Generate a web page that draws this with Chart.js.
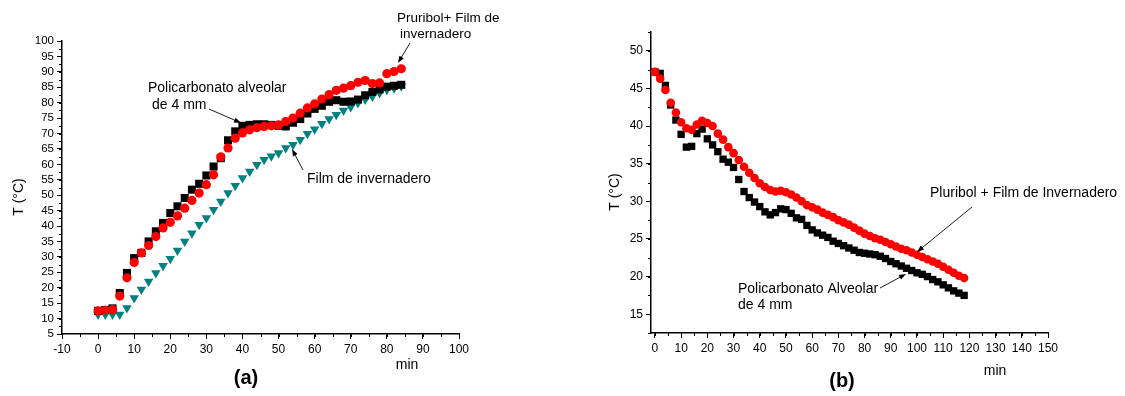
<!DOCTYPE html>
<html><head><meta charset="utf-8">
<script src="https://cdn.jsdelivr.net/npm/chart.js@4.4.0/dist/chart.umd.min.js"></script>
<style>
html,body{margin:0;padding:0;background:#fff;width:1125px;height:396px;overflow:hidden}
.w{position:absolute;top:0;width:560px;height:396px}
canvas{display:block}
</style></head><body>
<div class="w" style="left:0"><canvas id="ca" width="560" height="396"></canvas></div>
<div class="w" style="left:565px"><canvas id="cb" width="560" height="396"></canvas></div>
<script>
// ---------- Data: chart (a) heating ----------
const timeA = [0,2,4,6,8,10,12,14,16,18,20,22,24,26,28,30,32,34,36,38,40,42,44,46,48,50,52,54,56,58,60,62,64,66,68,70,72,74,76,78,80,82,84];
const policarbA = [12.5,12.8,13.3,18.3,24.8,29.6,31.3,35,38.3,41,44.2,46.4,49.1,51.8,53.7,56.4,59.3,62,67.8,70.7,72.5,72.8,73,73,72.8,72.5,72.3,73.5,74.7,76.5,78,79,80.3,80.8,80.3,80.4,81,82.4,83.5,84.3,85.2,85.5,85.8];
const pluribolFilmA = [12.5,12.7,12.9,17.3,23.2,28.2,31.3,33.7,36.6,39.4,41.2,43.3,45.8,48.3,50.7,53.4,56.6,62.4,65.3,68.5,70.2,71.2,71.9,72.3,72.5,72.8,73.9,75,76.6,78.3,79.6,81.2,82.6,84,84.7,85.5,86.6,87.2,86.2,86.4,89.4,90.1,91];
const filmA = [11.3,11.3,11.3,11.3,13.4,16.7,19.4,22,24.8,27.1,29.4,32.1,35,37.7,40.4,42.6,45.3,48,50.7,53.1,55.6,57.7,59.9,61.5,62.6,63.7,65.3,66.4,68,69.9,71.4,73.2,74.7,76.1,77.5,78.6,79.9,81,82,83.1,84.2,84.7,85.3];
const xTicksA = [-10,0,10,20,30,40,50,60,70,80,90,100];
const yTicksA = [5,10,15,20,25,30,35,40,45,50,55,60,65,70,75,80,85,90,95,100];

// ---------- Data: chart (b) cooling ----------
const timeB = [0,2,4,6,8,10,12,14,16,18,20,22,24,26,28,30,32,34,36,38,40,42,44,46,48,50,52,54,56,58,60,62,64,66,68,70,72,74,76,78,80,82,84,86,88,90,92,94,96,98,100,102,104,106,108,110,112,114,116,118];
const pluribolFilmB = [47.2,46.3,44.8,43.1,41.8,40.5,39.7,39.5,40.2,40.7,40.4,40.0,39.0,38.2,37.2,36.4,35.5,34.6,33.8,33.1,32.4,31.9,31.5,31.3,31.4,31.2,30.9,30.5,30.0,29.5,29.2,28.9,28.5,28.2,27.9,27.5,27.2,26.9,26.5,26.1,25.7,25.4,25.1,24.9,24.6,24.3,24.0,23.7,23.5,23.2,22.9,22.6,22.3,22.0,21.7,21.3,20.9,20.5,20.1,19.8];
const policarbB = [47.2,47.0,45.4,42.8,40.8,38.9,37.2,37.3,39.0,39.6,38.3,37.5,36.6,35.6,35.2,34.5,32.9,31.3,30.5,29.9,29.3,28.6,28.2,28.5,29.0,28.9,28.4,27.8,27.6,26.8,26.2,25.8,25.5,25.2,24.7,24.4,24.1,23.8,23.5,23.2,23.1,23.0,22.9,22.7,22.4,22.0,21.7,21.4,21.1,20.8,20.5,20.3,20.0,19.6,19.3,18.9,18.5,18.1,17.8,17.5];
const xTicksB = [0,10,20,30,40,50,60,70,80,90,100,110,120,130,140,150];
const yTicksB = [15,20,25,30,35,40,45,50];

const FONT = '"Liberation Sans", Arial, Helvetica, sans-serif';
Chart.defaults.font.family = FONT;
Chart.defaults.color = '#000';

const pts = (xs, ys) => xs.map((x, i) => ({x, y: ys[i]}));

function drawArrow(ctx, x1, y1, x2, y2) {
  const a = Math.atan2(y2 - y1, x2 - x1), L = 7, W = 2.6;
  ctx.beginPath(); ctx.moveTo(x1, y1);
  ctx.lineTo(x2 - Math.cos(a) * (L - 1), y2 - Math.sin(a) * (L - 1)); ctx.stroke();
  ctx.beginPath(); ctx.moveTo(x2, y2);
  ctx.lineTo(x2 - L * Math.cos(a) + W * Math.sin(a), y2 - L * Math.sin(a) - W * Math.cos(a));
  ctx.lineTo(x2 - L * Math.cos(a) - W * Math.sin(a), y2 - L * Math.sin(a) + W * Math.cos(a));
  ctx.closePath(); ctx.fill();
}

const extras = {
  id: 'extras',
  afterDraw(chart, args, opts) {
    const ctx = chart.ctx;
    ctx.save();
    ctx.strokeStyle = '#000'; ctx.fillStyle = '#000'; ctx.lineWidth = 1;
    // minor ticks
    const sx = chart.scales.x, sy = chart.scales.y;
    const ca = chart.chartArea;
    const mx = opts.minorX, my = opts.minorY;
    for (let v = Math.ceil(sx.min / mx) * mx; v <= sx.max + 1e-9; v += mx) {
      const p = Math.round(sx.getPixelForValue(v)) + 0.5;
      ctx.beginPath(); ctx.moveTo(p, ca.bottom); ctx.lineTo(p, ca.bottom + 3); ctx.stroke();
    }
    for (let v = Math.ceil(sy.min / my) * my; v <= sy.max + 1e-9; v += my) {
      const p = Math.round(sy.getPixelForValue(v)) + 0.5;
      ctx.beginPath(); ctx.moveTo(ca.left, p); ctx.lineTo(ca.left - 3, p); ctx.stroke();
    }
    // arrows
    ctx.lineWidth = 0.9;
    (opts.arrows || []).forEach(a => drawArrow(ctx, a[0], a[1], a[2], a[3]));
    // texts
    (opts.texts || []).forEach(t => {
      ctx.save();
      ctx.font = t.font + ' ' + FONT;
      ctx.textAlign = t.align || 'left';
      ctx.textBaseline = 'middle';
      ctx.translate(t.x, t.y);
      if (t.rot) ctx.rotate(t.rot);
      ctx.fillText(t.text, 0, 0);
      ctx.restore();
    });
    ctx.restore();
  }
};

function axis(a, dir) {
  return {
    type: 'linear', min: a.min, max: a.max,
    afterBuildTicks: s => { s.ticks = a.ticks.map(v => ({value: v})); },
    afterFit: s => { if (dir === 'x') s.height = a.size; else s.width = a.size; },
    border: {display: true, color: '#000', width: 1.5},
    grid: {display: true, drawOnChartArea: false, drawTicks: true, tickLength: 5, lineWidth: 1, tickColor: '#000'},
    ticks: {color: '#000', font: {size: a.font, family: FONT}, padding: a.pad, autoSkip: false, maxRotation: 0, minRotation: 0}
  };
}

function makeChart(id, cfg) {
  return new Chart(document.getElementById(id), {
    type: 'scatter',
    data: {datasets: cfg.datasets},
    options: {
      responsive: false, animation: false, devicePixelRatio: 1,
      layout: {padding: cfg.padding},
      plugins: {legend: {display: false}, tooltip: {enabled: false}, extras: cfg.extras},
      scales: {x: axis(cfg.x, 'x'), y: axis(cfg.y, 'y')}
    },
    plugins: [extras]
  });
}

// Chart (a)
makeChart('ca', {
  padding: {left: 0, top: 41, right: 101, bottom: 32},
  x: {min: -10, max: 100, ticks: xTicksA, size: 30, font: 12, pad: 3},
  y: {min: 5, max: 100, ticks: yTicksA, size: 62, font: 11.5, pad: 3},
  datasets: [
    {label: 'Pruribol+ Film de invernadero', data: pts(timeA, pluribolFilmA), pointStyle: 'circle', pointRadius: 4.6, backgroundColor: '#ff0000', borderWidth: 0, showLine: false},
    {label: 'Policarbonato alveolar de 4 mm', data: pts(timeA, policarbA), pointStyle: 'rect', pointRadius: 5.7, backgroundColor: '#000000', borderWidth: 0, showLine: false},
    {label: 'Film de invernadero', data: pts(timeA, filmA), pointStyle: 'triangle', rotation: 180, pointRadius: 5.5, backgroundColor: '#008080', borderWidth: 0, showLine: false}
  ],
  extras: {
    minorX: 5, minorY: 2.5,
    arrows: [[410, 43, 398, 63], [209, 109, 241, 123], [303, 170, 292, 149]],
    texts: [
      {text: 'Pruribol+ Film de', x: 397, y: 18, font: '13.5px'},
      {text: 'invernadero', x: 400, y: 34, font: '13.5px'},
      {text: 'Policarbonato alveolar', x: 148, y: 88, font: '14px'},
      {text: 'de 4 mm', x: 152, y: 105, font: '14px'},
      {text: 'Film de invernadero', x: 307, y: 179, font: '14px'},
      {text: 'min', x: 407, y: 365, font: '14px', align: 'center'},
      {text: '(a)', x: 246, y: 378, font: 'bold 20px', align: 'center'},
      {text: 'T (°C)', x: 19, y: 197, font: '14px', align: 'center', rot: -Math.PI / 2}
    ]
  }
});

// Chart (b)
makeChart('cb', {
  padding: {left: 0, top: 32, right: 77, bottom: 33},
  x: {min: -1.5, max: 150, ticks: xTicksB, size: 30, font: 12, pad: 3},
  y: {min: 12.5, max: 52.5, ticks: yTicksB, size: 86, font: 12, pad: 3},
  datasets: [
    {label: 'Pluribol + Film de Invernadero', data: pts(timeB, pluribolFilmB), pointStyle: 'circle', pointRadius: 4.3, backgroundColor: '#ff0000', borderWidth: 0, showLine: false},
    {label: 'Policarbonato Alveolar de 4 mm', data: pts(timeB, policarbB), pointStyle: 'rect', pointRadius: 5.2, backgroundColor: '#000000', borderWidth: 0, showLine: false}
  ],
  extras: {
    minorX: 5, minorY: 2.5,
    arrows: [[407, 207, 352, 252], [315, 288, 341, 274]],
    texts: [
      {text: 'Pluribol + Film de Invernadero', x: 365, y: 193, font: '14px'},
      {text: 'Policarbonato Alveolar', x: 173, y: 289, font: '14px'},
      {text: 'de 4 mm', x: 173, y: 305, font: '14px'},
      {text: 'min', x: 430, y: 371, font: '14px', align: 'center'},
      {text: '(b)', x: 277, y: 381, font: 'bold 20px', align: 'center'},
      {text: 'T (°C)', x: 50, y: 192, font: '14px', align: 'center', rot: -Math.PI / 2}
    ]
  }
});
</script>
</body></html>
